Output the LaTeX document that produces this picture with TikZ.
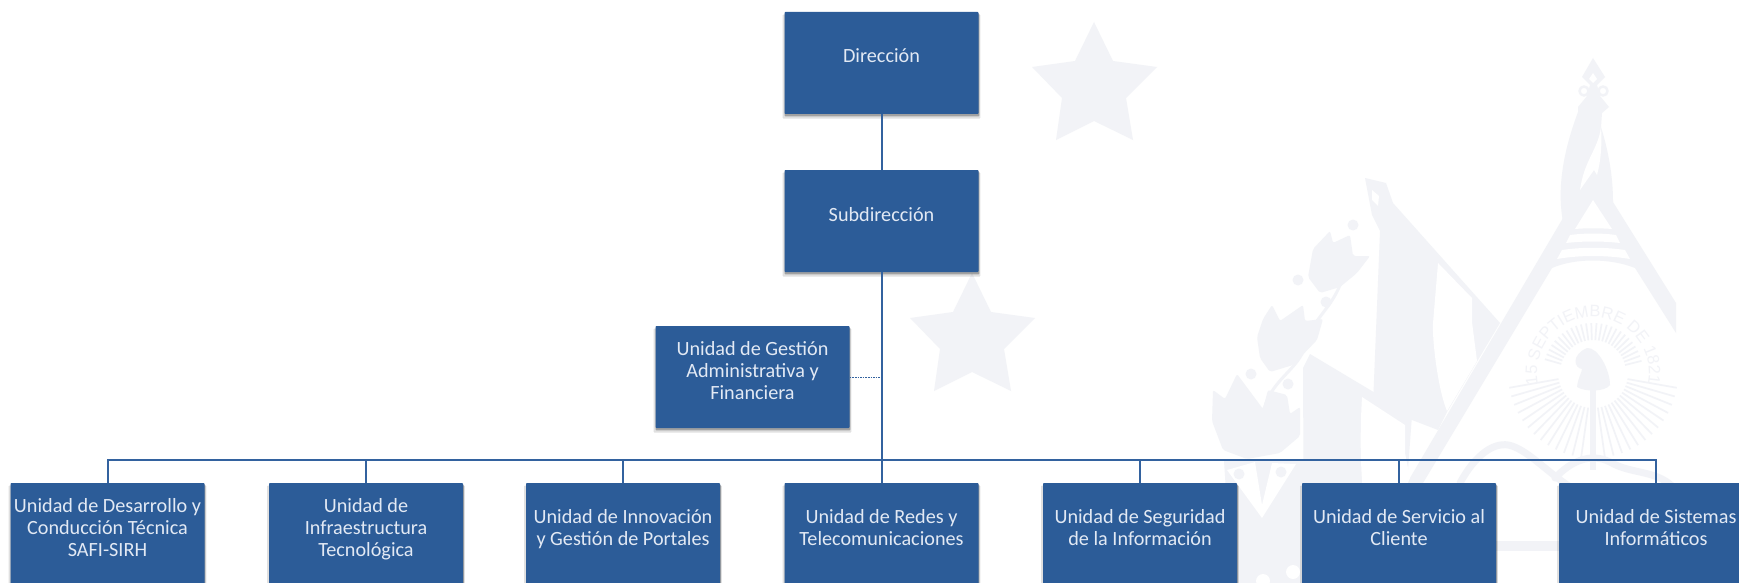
\documentclass[tikz,border=0pt]{standalone}
\usepackage{fontspec}
\setmainfont{Carlito}
\newfontfamily\wmfont{Liberation Sans}
\usetikzlibrary{shadows,decorations.text}
\definecolor{wm}{HTML}{F2F3F7}
\definecolor{boxblue}{HTML}{2C5C98}
\definecolor{linkblue}{HTML}{33629F}
\definecolor{boxtext}{HTML}{E2E9F4}
\tikzset{
  ubox/.style={rectangle,fill=boxblue,draw=none,rounded corners=0.8pt,
    minimum width=194pt,minimum height=102pt,inner sep=0pt,
    align=center,text=boxtext,text depth=14pt,
    font=\fontsize{20.2}{22}\selectfont,
    drop shadow={shadow xshift=0pt,shadow yshift=-3.5pt,shadow scale=1.02,fill=black,opacity=.12},
    drop shadow={shadow xshift=0.5pt,shadow yshift=-2pt,shadow scale=1.005,fill=black,opacity=.28}},
  conn/.style={draw=linkblue,line width=2pt},
  dotconn/.style={draw=linkblue,line width=1pt,dash pattern=on 1.6pt off 1pt},
  wmf/.style={fill=wm,draw=none},
  wmline/.style={draw=wm,line cap=round,line join=round},
  wmwhite/.style={fill=white,draw=none}
}
\newcommand{\wmstar}[2]{%
  \fill[wmf,shift={(#1,#2)}] (0,0) -- (19,39) -- (63,45) -- (32,76) -- (39,118) -- (0,99)
    -- (-38,118) -- (-32,76) -- (-62,45) -- (-19,39) -- cycle;}
\begin{document}
\begin{tikzpicture}[x=1pt,y=-1pt]
\useasboundingbox (0,0) rectangle (1739,583);
\clip (0,0) rectangle (1739,583);
\fill[white] (0,0) rectangle (1739,583);

% ---------- watermark ----------
\wmstar{1094}{22}
\wmstar{972}{273}

% right pen / quill
\fill[wmf] (1593,58) -- (1605,77) -- (1597,85) -- (1600,96) -- (1609,107) -- (1602,113)
  -- (1601,127) .. controls (1608,150) and (1613,175) .. (1613,202)
  -- (1593,197) -- (1563,222)
  .. controls (1558,195) and (1560,160) .. (1578,112)
  -- (1578,107) -- (1587,96) -- (1590,85) -- (1582,77) -- cycle;
\draw[wmline,line width=2.5pt] (1584,91) circle[radius=4.5pt] (1603,91) circle[radius=4.5pt];
\fill[white] (1593,73) -- (1597,79) -- (1593,83) -- (1589,79) -- cycle;
\fill[white] (1601,127) .. controls (1598,150) and (1584,160) .. (1580,190)
  -- (1594,170) -- (1597,175) .. controls (1601,160) and (1602,145) .. (1601,127) -- cycle;

% compass
\fill[wmf] (1593,190) -- (1613,202) -- (1676,303) -- (1676,333) -- (1635,268)
  .. controls (1610,258) and (1575,258) .. (1552,268)
  -- (1423,483) -- (1407,483) -- (1563,218) -- cycle;
\fill[white] (1593,200) -- (1612,229) .. controls (1600,228) and (1586,228) .. (1575,229) -- cycle;
\fill[white] (1570,235) .. controls (1585,233) and (1602,233) .. (1616,235) -- (1620,243)
  .. controls (1602,241) and (1584,241) .. (1566,243) -- cycle;
\fill[white] (1562,250) .. controls (1582,247) and (1605,247) .. (1625,250) -- (1630,259)
  .. controls (1606,255) and (1580,255) .. (1557,259) -- cycle;

% first flag
\fill[wmf] (1365,178) -- (1386,183) -- (1393,203) -- (1500,323) -- (1447,412)
  -- (1438,430) -- (1373,405) -- (1380,231) -- (1372,215) -- cycle;
\fill[white] (1372,190) -- (1379,196) -- (1378,206) -- (1372,200) -- cycle;
\fill[white] (1438,263) -- (1472,298) -- (1472,322) -- (1477,361) -- (1447,411)
  .. controls (1438,390) and (1432,340) .. (1433,323) -- cycle;

% second flag
\fill[wmf] (1303,368) -- (1310,354) -- (1412,415) -- (1407,483) -- (1400,540) -- (1362,583) -- (1304,583) -- cycle;
\fill[white] (1362,397) -- (1405,425) -- (1405,453) -- (1410,478) -- (1392,520) -- (1372,560) -- (1364,500) .. controls (1360,470) and (1360,430) .. (1362,397) -- cycle;

% laurel branch
\draw[wmline,line width=3pt] (1263,415) .. controls (1268,380) and (1300,370) .. (1305,345) .. controls (1312,320) and (1330,310) .. (1340,285);
\fill[wmf,rounded corners=2pt] (1330,231) -- (1333,243) -- (1350,235) -- (1353,256) -- (1370,256)
  -- (1357,273) -- (1340,287) -- (1320,293) -- (1308,277) -- (1313,249) -- cycle;
\fill[wmf,rounded corners=2pt] (1272,305) -- (1280,321) -- (1303,305) -- (1305,321) -- (1323,319)
  -- (1317,340) -- (1293,365) -- (1270,372) -- (1260,358) -- (1257,337) -- (1263,319) -- cycle;
\fill[wmf,rounded corners=2pt] (1213,390) -- (1225,399) -- (1237,374) -- (1263,409) -- (1268,390)
  -- (1287,395) -- (1290,414) -- (1300,407) -- (1300,436) -- (1280,453) -- (1247,459)
  -- (1223,450) -- (1212,421) -- cycle;
\foreach \cx/\cy in {1353/225,1298/280,1326/302,1251/374,1288/384}
  \fill[wmf] (\cx,\cy) circle[radius=5.5pt];

% lower laurel, between the boxes
\fill[wmf] (1224,461) -- (1304,461) -- (1304,583) -- (1232,583) -- cycle;
\fill[white] (1227,470) -- (1255,462) -- (1262,505) -- (1272,463) -- (1296,464) -- (1262,518) -- cycle;
\fill[wmf] (1239,474) circle[radius=5.5pt] (1281,472) circle[radius=5.5pt];
\fill[white] (1263,581) circle[radius=7pt] (1293,572) circle[radius=7pt];

% lower scroll bands
\draw[wmline,line width=7pt] (1460,483) .. controls (1475,455) and (1495,440) .. (1512,446)
  .. controls (1530,452) and (1550,475) .. (1575,490);
\draw[wmline,line width=7pt] (1555,478) .. controls (1570,462) and (1590,452) .. (1610,462)
  .. controls (1630,474) and (1655,470) .. (1672,486);
\fill[wmf] (1490,541) rectangle (1565,551);

% sun and emblem
\foreach \a in {14,20,...,166}
  \draw[wm,line width=1.7pt] ([shift={(1593,373)}]\a:33pt) -- ([shift={(1593,373)}]\a:50pt);
\foreach \a in {-10,-16,...,-82}
  \draw[wm,line width=1.7pt] ([shift={(1593,373)}]\a:35pt) -- ([shift={(1593,373)}]\a:85pt);
\foreach \a in {-98,-104,...,-170}
  \draw[wm,line width=1.7pt] ([shift={(1593,373)}]\a:35pt) -- ([shift={(1593,373)}]\a:85pt);
\fill[wmf] (1587,348) .. controls (1598,347) and (1610,370) .. (1610,385)
  .. controls (1605,392) and (1585,392) .. (1577,387)
  .. controls (1578,378) and (1582,372) .. (1582,369)
  .. controls (1574,368) and (1571,355) .. (1587,348) -- cycle;
\fill[wmf] (1590,388) rectangle (1596,470);
\path[decorate,decoration={text along path,text align=center,
  text={|\wmfont\fontsize{16.5}{16.5}\selectfont\color{wm}|15 SEPTIEMBRE DE 1821}}]
  ([shift={(1593,373)}]215:56pt) arc[start angle=215,end angle=-35,radius=56pt];

% ---------- chart ----------
\node[ubox] (dir) at (881.5,63) {Dirección};
\node[ubox] (sub) at (881.5,221) {Subdirección};
\node[ubox] (adm) at (752.5,377) {Unidad de Gestión\\Administrativa y\\Financiera};
\node[ubox] (r1) at (107.5,534) {Unidad de Desarrollo y\\Conducción Técnica\\SAFI-SIRH};
\node[ubox] (r2) at (366,534) {Unidad de\\Infraestructura\\Tecnológica};
\node[ubox] (r3) at (623,534) {Unidad de Innovación\\y Gestión de Portales};
\node[ubox] (r4) at (881.5,534) {Unidad de Redes y\\Telecomunicaciones};
\node[ubox] (r5) at (1140,534) {Unidad de Seguridad\\de la Información};
\node[ubox] (r6) at (1399,534) {Unidad de Servicio al\\Cliente};
\node[ubox] (r7) at (1656,534) {Unidad de Sistemas\\Informáticos};
\coordinate (hub) at (881.5,460);

\draw[conn] (dir.south) -- (sub.north);
\draw[conn] (sub.south) -- (r4.north);
\foreach \n in {r1,r2,r3,r5,r6,r7}
  \draw[conn] (\n.north) |- (hub);
\draw[dotconn] (adm.east) -- (adm.east -| sub.south);
\end{tikzpicture}
\end{document}
